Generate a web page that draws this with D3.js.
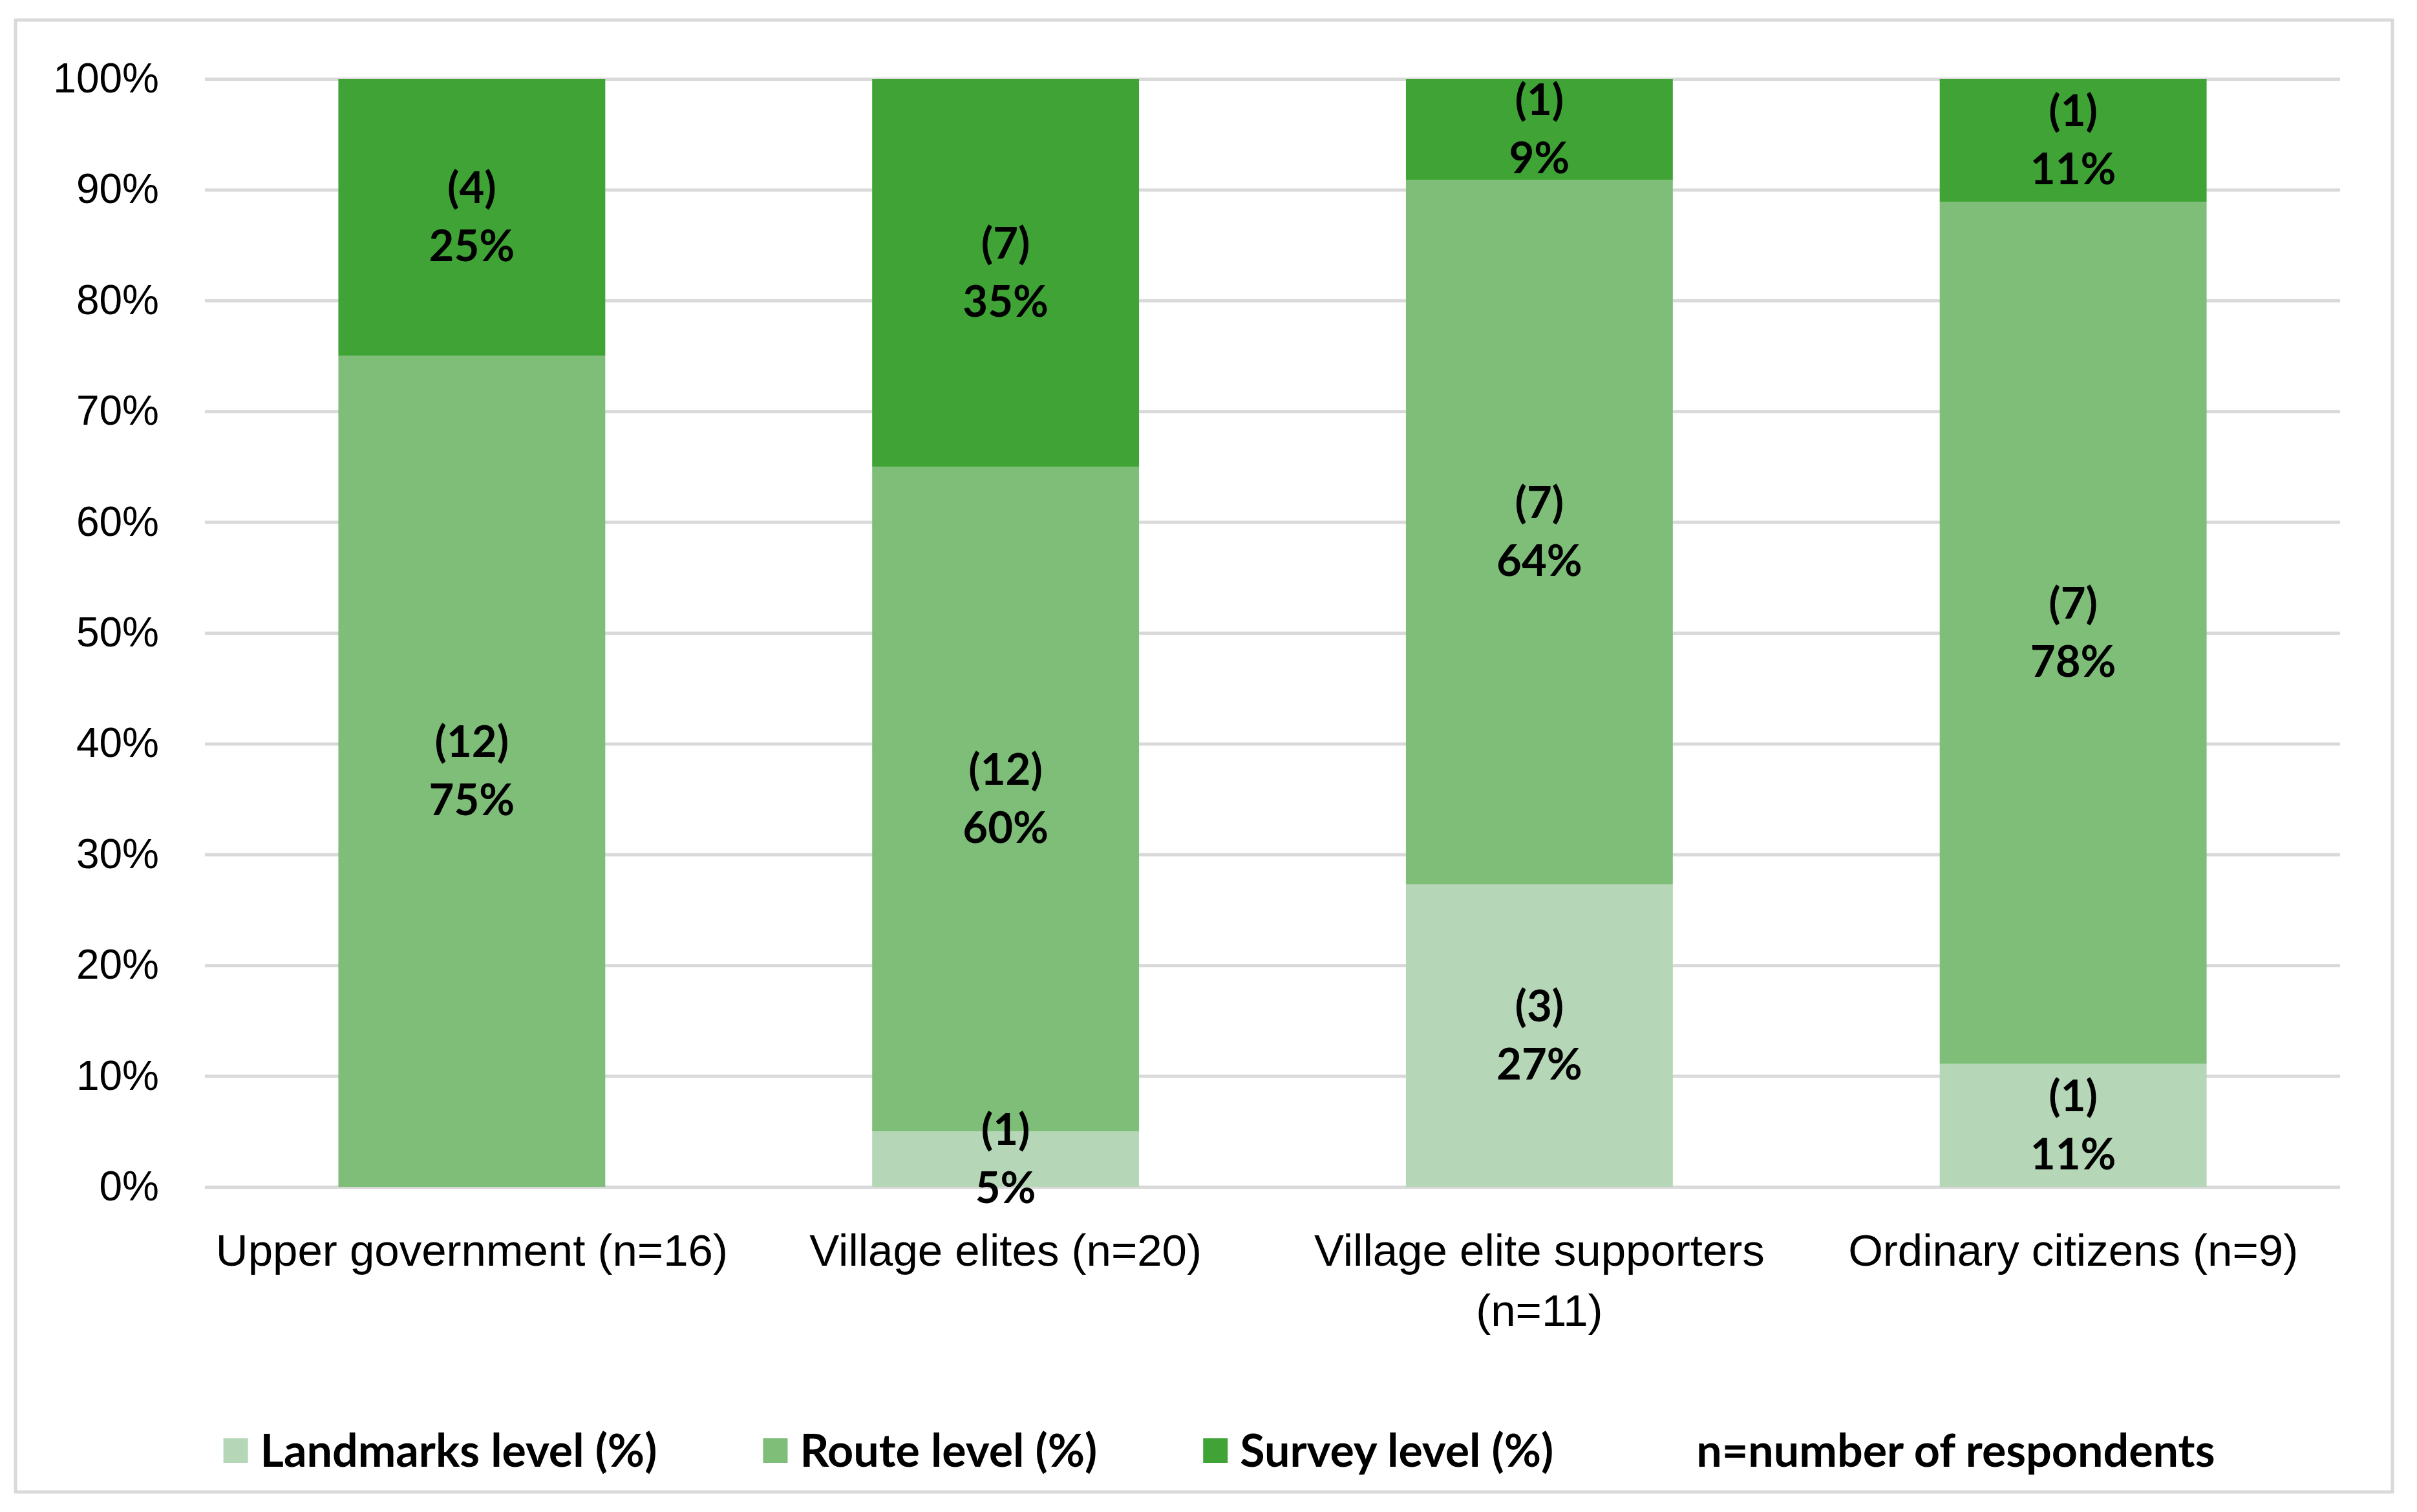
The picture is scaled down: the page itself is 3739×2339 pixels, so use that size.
<!DOCTYPE html>
<html lang="en">
<head>
    <meta charset="UTF-8">
    <title>Spatial knowledge level by respondent group</title>
    <script src="https://cdn.jsdelivr.net/npm/d3@7"></script>
    <style>
        body {
            margin: 0;
            background: #fff;
        }

        svg {
            display: block;
            font-family: Lato, 'Noto Sans', sans-serif;
        }

        .grid line {
            stroke: #d9d9d9;
            stroke-width: 5px;
        }

        .grid text {
            font-size: 64px;
            fill: #000;
        }

        .xaxis text {
            font-size: 69px;
            fill: #000;
        }

        .bar-label {
            font-size: 67px;
            font-weight: bold;
            fill: #000;
        }

        .legend text {
            font-size: 70px;
            font-weight: bold;
            fill: #000;
        }
    </style>
</head>
<body>
    <script>
        const categories = ["Upper government (n=16)", "Village elites (n=20)", "Village elite supporters (n=11)", "Ordinary citizens (n=9)"];
        const seriesNames = ["Landmarks level (%)", "Route level (%)", "Survey level (%)"];
        const seriesColors = ["#b6d7b7", "#7ebe79", "#3fa336"];

        // share of respondents in each group (%)
        const landmarksPct = [0, 5, 27.3, 11.1];
        const routePct = [75, 60, 63.6, 77.8];
        const surveyPct = [25, 35, 9.1, 11.1];

        // number of respondents, shown in brackets
        const landmarksN = [0, 1, 3, 1];
        const routeN = [12, 12, 7, 7];
        const surveyN = [4, 7, 1, 1];

        const yTicks = [0, 10, 20, 30, 40, 50, 60, 70, 80, 90, 100];
        const legendNote = "n=number of respondents";

        const W = 3739, H = 2339;
        const plot = { left: 317, right: 3620, top: 122, bottom: 1836 };

        const keys = ["landmarks", "route", "survey"];
        const pcts = [landmarksPct, routePct, surveyPct];
        const counts = [landmarksN, routeN, surveyN];

        const table = categories.map((c, i) => {
            const row = { category: c };
            keys.forEach((k, j) => {
                row[k] = pcts[j][i];
                row[k + "N"] = counts[j][i];
            });
            return row;
        });

        const stacked = d3.stack().keys(keys)(table);

        const x = d3.scaleBand()
            .domain(categories)
            .range([plot.left, plot.right])
            .paddingInner(0.5)
            .paddingOuter(0.25);

        const y = d3.scaleLinear()
            .domain([0, 100])
            .range([plot.bottom, plot.top]);

        const svg = d3.select("body").append("svg")
            .attr("width", W)
            .attr("height", H);

        // chart frame
        svg.append("rect")
            .attr("x", 24)
            .attr("y", 31)
            .attr("width", 3677)
            .attr("height", 2277)
            .attr("fill", "#fff")
            .attr("stroke", "#d9d9d9")
            .attr("stroke-width", 5);

        // gridlines + y labels
        svg.append("g")
            .attr("class", "grid")
            .attr("transform", `translate(${plot.left},0)`)
            .call(d3.axisLeft(y)
                .tickValues(yTicks)
                .tickFormat(d => d + "%")
                .tickSize(-(plot.right - plot.left))
                .tickPadding(71))
            .call(g => g.select(".domain").remove());

        // bars
        const layers = svg.append("g")
            .selectAll("g")
            .data(stacked)
            .join("g")
            .attr("fill", (d, i) => seriesColors[i]);

        layers.selectAll("rect")
            .data(d => d)
            .join("rect")
            .attr("x", d => x(d.data.category))
            .attr("width", x.bandwidth())
            .attr("y", d => y(d[1]))
            .attr("height", d => y(d[0]) - y(d[1]));

        // data labels: (count) over percentage
        stacked.forEach(layer => {
            const labels = svg.append("g")
                .selectAll("text")
                .data(layer.filter(d => d[1] - d[0] > 0))
                .join("text")
                .attr("class", "bar-label")
                .attr("text-anchor", "middle")
                .attr("x", d => x(d.data.category) + x.bandwidth() / 2)
                .attr("y", d => (y(d[0]) + y(d[1])) / 2);

            labels.append("tspan")
                .attr("x", d => x(d.data.category) + x.bandwidth() / 2)
                .attr("dy", -22)
                .text(d => `(${d.data[layer.key + "N"]})`);

            labels.append("tspan")
                .attr("x", d => x(d.data.category) + x.bandwidth() / 2)
                .attr("dy", 90)
                .text(d => `${Math.round(d.data[layer.key])}%`);
        });

        // category axis
        svg.append("g")
            .attr("class", "xaxis")
            .attr("transform", `translate(0,${plot.bottom})`)
            .call(d3.axisBottom(x).tickSize(0).tickPadding(73))
            .call(g => g.select(".domain").remove())
            .selectAll(".tick text")
            .call(wrap, x.step());

        // break long category names onto a second line
        function wrap(text, width) {
            text.each(function() {
                const t = d3.select(this);
                const words = t.text().split(/\s+/);
                const ty = +t.attr("y"), tdy = t.attr("dy");
                let line = [];
                let lineNo = 0;
                let tspan = t.text(null).append("tspan").attr("x", 0).attr("y", ty).attr("dy", tdy);
                words.forEach(w => {
                    line.push(w);
                    tspan.text(line.join(" "));
                    if (tspan.node().getComputedTextLength() > width && line.length > 1) {
                        line.pop();
                        tspan.text(line.join(" "));
                        line = [w];
                        lineNo++;
                        tspan = t.append("tspan")
                            .attr("x", 0)
                            .attr("y", ty + lineNo * 93)
                            .attr("dy", tdy)
                            .text(w);
                    }
                });
            });
        }

        // legend, laid out left to right and centred
        const legendItems = seriesNames.map((s, i) => ({ name: s, color: seriesColors[i] }))
            .concat([{ name: legendNote, color: "none" }]);

        const legendY = 2244, sw = 38, textGap = 19, itemGap = 164;
        const legend = svg.append("g").attr("class", "legend");

        let cursor = 0;
        legendItems.forEach(item => {
            const g = legend.append("g").attr("transform", `translate(${cursor},0)`);
            g.append("rect")
                .attr("x", 0)
                .attr("y", legendY - sw / 2)
                .attr("width", sw)
                .attr("height", sw)
                .attr("fill", item.color);
            const t = g.append("text")
                .attr("x", sw + textGap)
                .attr("y", legendY)
                .attr("dy", "0.35em")
                .text(item.name);
            cursor += sw + textGap + t.node().getComputedTextLength() + itemGap;
        });
        cursor -= itemGap;
        legend.attr("transform", `translate(${1886 - cursor / 2},0)`);
    </script>
</body>
</html>
